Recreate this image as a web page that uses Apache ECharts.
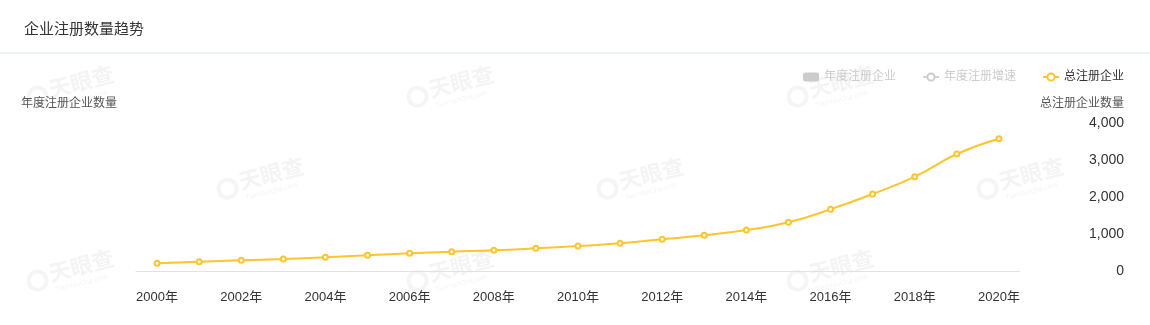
<!DOCTYPE html>
<html><head><meta charset="utf-8">
<script src="https://cdn.jsdelivr.net/npm/echarts@6/dist/echarts.min.js"></script>
<style>html,body{margin:0;padding:0;background:#fff}#c{width:1150px;height:325px}</style>
</head><body><div id="c"></div>
<script>
const years = ['2000年','2001年','2002年','2003年','2004年','2005年','2006年','2007年','2008年','2009年','2010年','2011年','2012年','2013年','2014年','2015年','2016年','2017年','2018年','2019年','2020年'];
const annualRegistered = [];
const annualGrowth = [];
const totalRegistered = [208,251,289,324,370,424,478,522,559,613,676,748,857,965,1108,1316,1668,2081,2549,3162,3576];
const FONT = '"Liberation Sans", "Noto Sans CJK SC", sans-serif';
const wmSpots = [[22,80],[402,80],[782,80],[212,172],[592,172],[972,172],[22,264],[402,264],[782,264]];
function watermark(p){
  return {type:'group',x:p[0],y:p[1],rotation:0.25,silent:true,z:-10,children:[
    {type:'circle',shape:{cx:11,cy:20,r:9},style:{fill:'none',stroke:'#f5f5f5',lineWidth:4}},
    {type:'text',x:24,y:5,style:{text:'天眼查',font:'bold 22px "Noto Sans CJK SC"',fill:'#f4f4f4'}},
    {type:'text',x:26,y:30,style:{text:'TianYanCha.com',font:'7px "Liberation Sans"',fill:'#f4f4f4'}}
  ]};
}
const chart = echarts.init(document.getElementById('c'));
chart.setOption({
  animation:false,
  textStyle:{fontFamily:FONT},
  title:{text:'企业注册数量趋势',left:19,top:17,textStyle:{fontSize:15,fontWeight:'normal',color:'#333',fontFamily:FONT}},
  graphic:[{type:'rect',left:0,top:52,z:-5,shape:{width:1150,height:2},style:{fill:'#eef2f6'}}].concat(wmSpots.map(watermark)),
  legend:{right:21,top:66,itemGap:26,itemWidth:16,itemHeight:9,
    textStyle:{fontSize:12,color:'#333',fontFamily:FONT},inactiveColor:'#ccc',
    selected:{'年度注册企业':false,'年度注册增速':false,'总注册企业':true},
    data:[{name:'年度注册企业',icon:'roundRect'},{name:'年度注册增速'},{name:'总注册企业'}]},
  grid:{left:136,right:130,top:123,bottom:54},
  xAxis:{type:'category',data:years,boundaryGap:true,
    axisLine:{lineStyle:{color:'#e2e2e2'}},axisTick:{show:false},
    axisLabel:{interval:1,color:'#333',fontSize:13,margin:20,fontFamily:FONT}},
  yAxis:[
    {type:'value',name:'年度注册企业数量',nameGap:13,
     nameTextStyle:{align:'right',padding:[0,19,0,0],color:'#555',fontSize:12,fontFamily:FONT},
     axisLabel:{show:false},splitLine:{show:false},axisLine:{show:false},axisTick:{show:false}},
    {type:'value',name:'总注册企业数量',nameGap:13,min:0,max:4000,interval:1000,position:'right',
     nameTextStyle:{align:'left',padding:[0,0,0,20],color:'#555',fontSize:12,fontFamily:FONT},
     axisLabel:{align:'right',margin:104,color:'#333',fontSize:14,fontFamily:FONT,
       formatter:v=>v.toLocaleString('en-US')},
     splitLine:{show:false},axisLine:{show:false},axisTick:{show:false}}
  ],
  series:[
    {name:'年度注册企业',type:'bar',yAxisIndex:0,data:annualRegistered,itemStyle:{color:'#5b8ff9'}},
    {name:'年度注册增速',type:'line',yAxisIndex:0,data:annualGrowth,symbol:'emptyCircle',itemStyle:{color:'#5ad8a6'}},
    {name:'总注册企业',type:'line',yAxisIndex:1,data:totalRegistered,smooth:true,
     symbol:'emptyCircle',symbolSize:5,
     lineStyle:{width:2,color:'#ffc42e'},itemStyle:{color:'#ffc42e',borderWidth:1}}
  ]
});
</script></body></html>
